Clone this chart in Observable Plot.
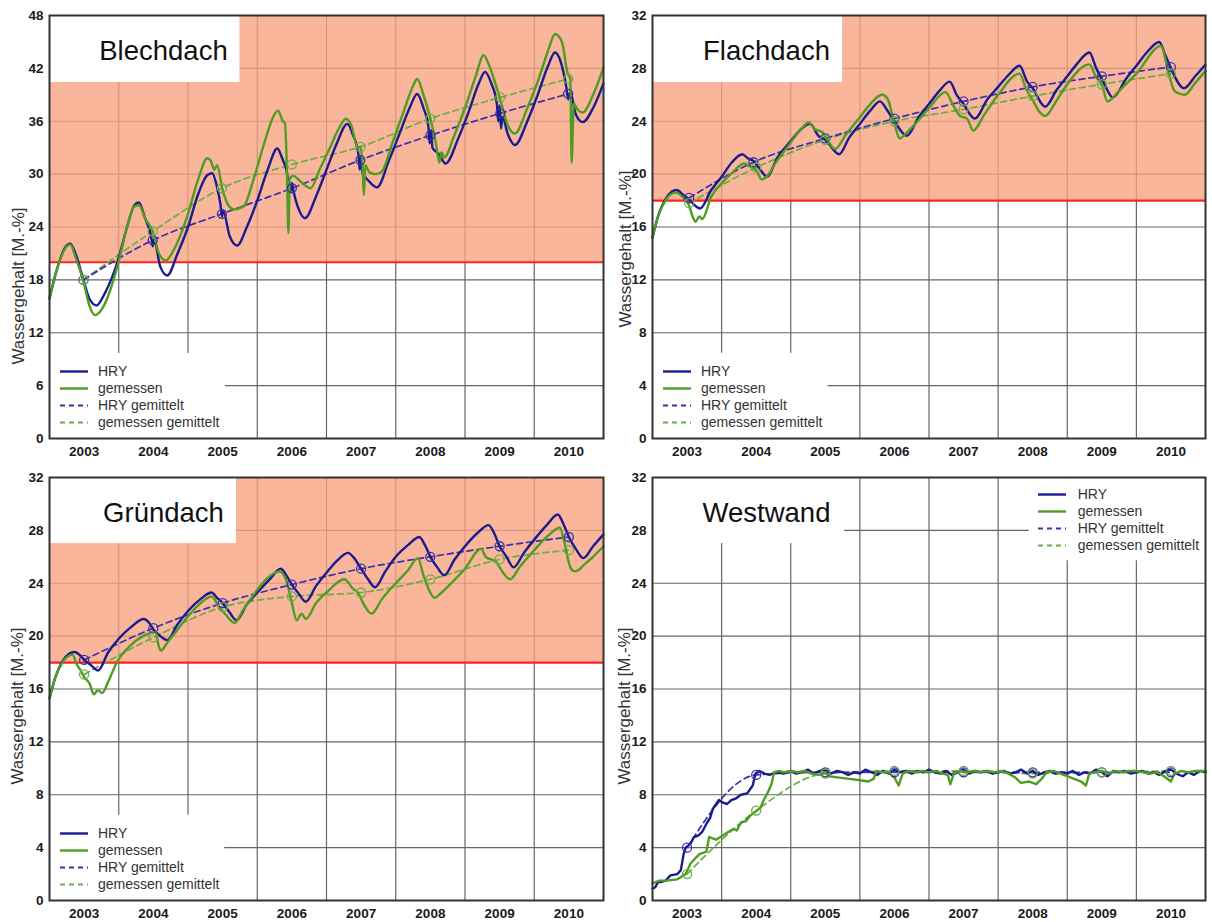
<!DOCTYPE html>
<html><head><meta charset="utf-8">
<script src="https://cdn.jsdelivr.net/npm/d3@7"></script>
<script src="https://cdn.jsdelivr.net/npm/@observablehq/plot@0.6"></script>
<style>
html,body{margin:0;padding:0;background:#fff;}
#root{position:relative;width:1212px;height:922px;overflow:hidden;font-family:"Liberation Sans",Arial,sans-serif;}
.panel{position:absolute;width:606px;height:461px;}
.legend{position:absolute;font-size:14px;color:#333;font-family:"Liberation Sans",Arial,sans-serif;}
.legend .row{position:absolute;left:0;height:17px;line-height:17px;white-space:nowrap;}
.legend svg{position:absolute;left:0;top:0;}
.legend span{position:absolute;left:49px;top:0;}
</style></head><body><div id="root"></div>
<script>
// ---------- axis ticks ----------
const yearBounds = [2004, 2005, 2006, 2007, 2008, 2009, 2010];
const yearTicks = [2003.5, 2004.5, 2005.5, 2006.5, 2007.5, 2008.5, 2009.5, 2010.5];
const yearLabels = ["2003", "2004", "2005", "2006", "2007", "2008", "2009", "2010"];
const ticks48 = [0, 6, 12, 18, 24, 30, 36, 42, 48];
const ticks32 = [0, 4, 8, 12, 16, 20, 24, 28, 32];
const legendLabels = ["HRY", "gemessen", "HRY gemittelt", "gemessen gemittelt"];
const yLabel = "Wassergehalt [M.-%]";

// ---------- Blechdach ----------
const blechdachHRY = [[2003.00,15.9],[2003.10,19.0],[2003.22,21.6],[2003.30,22.1],[2003.38,20.9],[2003.49,18.0],[2003.58,15.8],[2003.68,15.1],[2003.80,16.5],[2003.98,20.0],[2004.12,24.0],[2004.22,26.4],[2004.29,26.8],[2004.38,25.0],[2004.47,22.8],[2004.49,21.8],[2004.51,22.5],[2004.60,19.5],[2004.70,18.5],[2004.85,21.0],[2005.00,24.0],[2005.15,27.8],[2005.28,29.9],[2005.35,30.1],[2005.42,28.5],[2005.47,26.5],[2005.49,25.2],[2005.51,25.8],[2005.60,23.0],[2005.71,21.9],[2005.85,24.0],[2006.00,27.0],[2006.15,30.5],[2006.29,32.9],[2006.36,31.8],[2006.42,30.5],[2006.48,28.0],[2006.50,29.0],[2006.52,28.2],[2006.60,26.0],[2006.69,25.0],[2006.85,27.5],[2007.00,30.5],[2007.15,33.5],[2007.30,35.7],[2007.38,34.5],[2007.46,32.3],[2007.48,30.5],[2007.50,32.0],[2007.52,30.2],[2007.60,29.3],[2007.73,28.5],[2007.90,31.5],[2008.05,34.5],[2008.20,37.5],[2008.31,39.1],[2008.40,37.5],[2008.47,35.5],[2008.49,33.5],[2008.51,35.0],[2008.53,33.0],[2008.62,32.3],[2008.72,31.2],[2008.90,34.0],[2009.05,37.0],[2009.20,40.3],[2009.29,41.6],[2009.38,40.3],[2009.46,38.0],[2009.48,36.0],[2009.50,37.8],[2009.52,35.2],[2009.54,36.5],[2009.62,34.5],[2009.72,33.3],[2009.90,36.0],[2010.05,39.0],[2010.20,42.3],[2010.30,43.8],[2010.38,42.8],[2010.46,40.0],[2010.49,38.5],[2010.52,39.3],[2010.60,36.8],[2010.70,35.9],[2010.85,37.5],[2011.00,40.3]];
const blechdachGem = [[2003.00,15.9],[2003.10,19.0],[2003.22,21.5],[2003.30,22.0],[2003.38,20.5],[2003.49,17.8],[2003.58,15.0],[2003.66,14.0],[2003.78,15.0],[2003.98,19.5],[2004.12,24.0],[2004.22,26.3],[2004.29,26.5],[2004.38,25.0],[2004.49,23.5],[2004.58,21.0],[2004.68,20.2],[2004.80,21.5],[2005.00,25.5],[2005.15,29.5],[2005.28,31.8],[2005.33,31.5],[2005.38,30.5],[2005.42,31.0],[2005.50,28.2],[2005.58,26.5],[2005.66,26.0],[2005.80,26.3],[2005.95,29.5],[2006.10,33.5],[2006.25,36.8],[2006.30,37.2],[2006.37,36.0],[2006.40,35.8],[2006.43,30.0],[2006.45,23.3],[2006.47,29.5],[2006.52,29.8],[2006.62,29.2],[2006.77,28.4],[2006.90,30.5],[2007.05,33.0],[2007.20,35.5],[2007.28,36.3],[2007.36,35.5],[2007.45,33.0],[2007.49,33.1],[2007.52,31.0],[2007.54,27.6],[2007.56,31.0],[2007.62,30.2],[2007.72,30.0],[2007.80,30.3],[2007.95,33.5],[2008.10,36.8],[2008.25,40.0],[2008.31,40.8],[2008.40,39.0],[2008.50,36.3],[2008.58,33.5],[2008.63,31.3],[2008.66,32.5],[2008.70,31.9],[2008.85,34.5],[2009.00,37.5],[2009.15,41.0],[2009.27,43.5],[2009.34,42.5],[2009.50,38.7],[2009.62,35.5],[2009.72,34.6],[2009.90,37.5],[2010.05,40.5],[2010.20,44.0],[2010.30,45.9],[2010.40,45.0],[2010.48,41.5],[2010.52,40.8],[2010.54,31.3],[2010.57,38.0],[2010.63,37.3],[2010.70,37.0],[2010.85,39.0],[2011.00,42.1]];
const blechdachHRYAvg = [[2003.49,18.0],[2004.49,22.5],[2005.49,25.5],[2006.50,28.4],[2007.49,31.6],[2008.50,34.4],[2009.51,36.9],[2010.49,39.1]];
const blechdachGemAvg = [[2003.49,18.0],[2004.49,23.5],[2005.49,28.4],[2006.50,31.1],[2007.49,33.1],[2008.50,36.3],[2009.51,38.7],[2010.49,40.8]];

// ---------- Flachdach ----------
const flachdachHRY = [[2003.00,15.2],[2003.08,16.8],[2003.20,18.2],[2003.35,18.8],[2003.45,18.4],[2003.53,18.1],[2003.62,17.6],[2003.69,17.4],[2003.85,18.8],[2004.00,19.8],[2004.15,20.9],[2004.30,21.5],[2004.38,21.2],[2004.46,21.0],[2004.55,20.4],[2004.66,19.8],[2004.80,21.2],[2005.00,22.5],[2005.15,23.4],[2005.28,23.8],[2005.40,22.9],[2005.50,22.6],[2005.70,21.5],[2005.85,22.8],[2006.00,23.8],[2006.15,24.8],[2006.29,25.5],[2006.40,24.8],[2006.50,24.0],[2006.68,22.9],[2006.85,24.3],[2007.00,25.3],[2007.15,26.3],[2007.30,27.0],[2007.40,26.0],[2007.50,25.3],[2007.66,24.2],[2007.85,25.7],[2008.00,26.6],[2008.15,27.5],[2008.31,28.2],[2008.42,27.0],[2008.50,26.5],[2008.68,25.1],[2008.85,26.4],[2009.00,27.4],[2009.15,28.4],[2009.32,29.2],[2009.42,28.0],[2009.52,27.0],[2009.66,25.8],[2009.85,27.2],[2010.00,28.2],[2010.15,29.2],[2010.33,30.0],[2010.42,29.0],[2010.50,28.0],[2010.69,26.5],[2010.85,27.4],[2011.00,28.3]];
const flachdachGem = [[2003.00,15.2],[2003.08,16.8],[2003.20,18.1],[2003.33,18.6],[2003.45,18.2],[2003.53,17.6],[2003.58,16.8],[2003.62,16.4],[2003.68,16.8],[2003.72,16.6],[2003.85,18.3],[2004.00,19.3],[2004.15,20.1],[2004.33,20.8],[2004.40,20.6],[2004.50,20.3],[2004.58,19.6],[2004.63,19.7],[2004.80,21.0],[2005.00,22.4],[2005.15,23.4],[2005.26,23.9],[2005.35,23.4],[2005.45,23.2],[2005.53,22.6],[2005.64,21.9],[2005.80,23.0],[2006.00,24.3],[2006.15,25.3],[2006.32,26.0],[2006.40,25.7],[2006.47,24.5],[2006.58,22.7],[2006.65,23.0],[2006.80,23.8],[2007.00,25.0],[2007.24,26.2],[2007.35,25.2],[2007.45,24.4],[2007.55,24.2],[2007.64,23.3],[2007.80,24.5],[2008.00,26.0],[2008.31,27.6],[2008.40,26.5],[2008.50,25.6],[2008.60,24.7],[2008.68,24.4],[2008.85,25.6],[2009.00,26.8],[2009.32,28.3],[2009.42,27.3],[2009.50,26.8],[2009.58,25.5],[2009.75,26.3],[2010.00,27.6],[2010.36,29.7],[2010.45,28.0],[2010.55,26.3],[2010.62,26.1],[2010.70,26.0],[2010.85,26.9],[2011.00,27.8]];
const flachdachHRYAvg = [[2003.53,18.2],[2004.46,20.9],[2005.50,22.7],[2006.50,24.2],[2007.50,25.5],[2008.50,26.6],[2009.50,27.4],[2010.50,28.1]];
const flachdachGemAvg = [[2003.53,17.8],[2004.50,20.5],[2005.50,22.6],[2006.50,24.0],[2007.50,24.9],[2008.50,25.9],[2009.50,26.8],[2010.50,27.6]];

// ---------- Gründach ----------
const gruendachHRY = [[2003.00,15.3],[2003.08,16.8],[2003.20,18.2],[2003.36,18.8],[2003.45,18.5],[2003.50,18.2],[2003.60,17.8],[2003.70,17.4],[2003.85,18.8],[2004.00,19.8],[2004.18,20.7],[2004.36,21.3],[2004.44,21.0],[2004.50,20.5],[2004.60,20.0],[2004.70,19.7],[2004.85,20.9],[2005.00,21.9],[2005.18,22.8],[2005.34,23.3],[2005.42,22.9],[2005.50,22.5],[2005.60,21.8],[2005.70,21.2],[2005.85,22.4],[2006.00,23.3],[2006.18,24.3],[2006.34,25.1],[2006.42,24.6],[2006.50,23.9],[2006.60,23.2],[2006.70,22.6],[2006.85,23.8],[2007.00,24.8],[2007.15,25.7],[2007.31,26.3],[2007.40,25.9],[2007.50,25.1],[2007.60,24.3],[2007.70,23.7],[2007.85,24.9],[2008.00,26.0],[2008.18,26.9],[2008.34,27.5],[2008.42,26.9],[2008.50,26.0],[2008.60,25.2],[2008.70,24.6],[2008.85,25.8],[2009.00,26.8],[2009.18,27.8],[2009.34,28.4],[2009.42,27.8],[2009.50,26.8],[2009.60,26.0],[2009.70,25.2],[2009.85,26.3],[2010.00,27.3],[2010.18,28.4],[2010.34,29.2],[2010.42,28.5],[2010.50,27.5],[2010.60,26.6],[2010.71,25.9],[2010.85,26.8],[2011.00,27.7]];
const gruendachGem = [[2003.00,15.3],[2003.08,16.8],[2003.20,18.1],[2003.33,18.6],[2003.40,17.8],[2003.45,17.4],[2003.50,16.9],[2003.58,16.4],[2003.64,15.6],[2003.70,15.9],[2003.76,15.7],[2003.86,16.7],[2003.98,18.1],[2004.15,19.2],[2004.35,20.0],[2004.53,20.3],[2004.58,19.2],[2004.61,18.9],[2004.70,19.5],[2004.85,20.5],[2005.00,21.5],[2005.18,22.5],[2005.34,23.0],[2005.45,22.2],[2005.55,21.6],[2005.67,21.0],[2005.80,22.0],[2006.00,23.5],[2006.15,24.4],[2006.32,24.9],[2006.42,24.2],[2006.50,22.5],[2006.57,21.2],[2006.64,21.7],[2006.70,21.3],[2006.85,22.5],[2007.00,23.3],[2007.26,24.3],[2007.38,23.6],[2007.45,23.3],[2007.55,22.3],[2007.65,21.7],[2007.80,22.8],[2008.00,24.0],[2008.18,25.0],[2008.32,25.9],[2008.40,24.6],[2008.48,23.5],[2008.56,22.9],[2008.64,23.2],[2008.80,24.0],[2009.00,25.1],[2009.23,26.6],[2009.30,26.0],[2009.45,25.6],[2009.55,24.8],[2009.65,24.3],[2009.80,25.3],[2010.00,26.5],[2010.20,27.6],[2010.37,28.2],[2010.44,27.0],[2010.52,25.2],[2010.58,24.9],[2010.64,25.0],[2010.70,25.3],[2010.85,26.0],[2011.00,26.8]];
const gruendachHRYAvg = [[2003.50,18.2],[2004.50,20.6],[2005.50,22.5],[2006.50,23.9],[2007.50,25.1],[2008.50,26.0],[2009.50,26.8],[2010.50,27.5]];
const gruendachGemAvg = [[2003.50,17.1],[2004.50,19.9],[2005.50,22.2],[2006.50,23.0],[2007.50,23.3],[2008.50,24.3],[2009.50,25.8],[2010.50,26.5]];

// ---------- Westwand ----------
const westwandHRY = [[2003.00,0.9],[2003.04,1.0],[2003.08,1.4],[2003.12,1.4],[2003.19,1.5],[2003.26,1.9],[2003.36,2.0],[2003.41,2.3],[2003.45,3.5],[2003.48,4.0],[2003.55,4.3],[2003.60,4.8],[2003.66,4.9],[2003.72,5.2],[2003.79,5.9],[2003.83,6.2],[2003.87,6.9],[2003.96,7.6],[2004.02,7.4],[2004.08,7.3],[2004.14,7.6],[2004.20,7.7],[2004.28,8.0],[2004.37,8.1],[2004.45,8.7],[2004.49,9.6],[2004.55,9.8],[2004.62,9.6],[2004.69,9.5],[2004.79,9.7],[2004.90,9.6],[2005.00,9.8],[2005.08,9.6],[2005.16,9.7],[2005.25,9.9],[2005.33,9.6],[2005.42,9.8],[2005.50,9.9],[2005.58,9.6],[2005.67,9.8],[2005.75,9.7],[2005.83,9.5],[2005.92,9.7],[2006.00,9.6],[2006.08,9.9],[2006.17,9.7],[2006.25,9.5],[2006.33,9.8],[2006.42,9.6],[2006.50,9.9],[2006.58,9.7],[2006.67,9.8],[2006.75,9.6],[2006.83,9.8],[2006.92,9.7],[2007.00,9.9],[2007.08,9.7],[2007.17,9.6],[2007.25,9.8],[2007.33,9.5],[2007.42,9.7],[2007.50,9.9],[2007.58,9.6],[2007.67,9.8],[2007.75,9.7],[2007.83,9.8],[2007.92,9.6],[2008.00,9.7],[2008.08,9.8],[2008.17,9.6],[2008.25,9.7],[2008.33,9.9],[2008.42,9.6],[2008.50,9.8],[2008.58,9.5],[2008.67,9.7],[2008.75,9.8],[2008.83,9.6],[2008.92,9.7],[2009.00,9.6],[2009.08,9.8],[2009.17,9.5],[2009.25,9.7],[2009.33,9.6],[2009.42,9.9],[2009.50,9.7],[2009.58,9.4],[2009.67,9.8],[2009.75,9.7],[2009.83,9.8],[2009.92,9.6],[2010.00,9.7],[2010.08,9.8],[2010.17,9.6],[2010.25,9.7],[2010.33,9.5],[2010.42,9.8],[2010.50,9.9],[2010.58,9.6],[2010.67,9.4],[2010.75,9.7],[2010.83,9.5],[2010.92,9.8],[2011.00,9.7]];
const westwandGem = [[2003.00,1.3],[2003.10,1.5],[2003.20,1.5],[2003.36,1.6],[2003.48,2.0],[2003.55,2.8],[2003.62,3.2],[2003.68,3.5],[2003.78,3.7],[2003.82,4.8],[2003.92,4.6],[2004.04,5.0],[2004.10,5.2],[2004.17,5.4],[2004.22,5.3],[2004.28,5.9],[2004.35,6.0],[2004.41,6.4],[2004.51,6.8],[2004.56,7.0],[2004.61,7.6],[2004.68,8.3],[2004.72,8.8],[2004.76,9.7],[2004.83,9.8],[2004.90,9.7],[2005.00,9.8],[2005.10,9.7],[2005.20,9.8],[2005.30,9.6],[2005.42,9.5],[2005.50,9.7],[2005.55,9.4],[2005.70,9.3],[2005.85,9.2],[2006.00,9.1],[2006.12,9.0],[2006.20,9.2],[2006.24,9.8],[2006.32,9.7],[2006.42,9.7],[2006.50,9.3],[2006.56,8.7],[2006.62,9.6],[2006.70,9.8],[2006.80,9.7],[2006.90,9.8],[2007.00,9.7],[2007.10,9.8],[2007.20,9.6],[2007.27,9.5],[2007.31,8.8],[2007.36,9.6],[2007.45,9.8],[2007.55,9.7],[2007.65,9.8],[2007.75,9.7],[2007.85,9.8],[2007.95,9.7],[2008.05,9.8],[2008.15,9.6],[2008.25,9.3],[2008.33,8.9],[2008.45,9.0],[2008.55,8.8],[2008.63,9.2],[2008.70,9.7],[2008.80,9.8],[2008.90,9.6],[2009.00,9.4],[2009.10,9.2],[2009.20,9.0],[2009.27,8.7],[2009.32,9.6],[2009.40,9.7],[2009.50,9.8],[2009.60,9.6],[2009.70,9.8],[2009.80,9.7],[2009.90,9.8],[2010.00,9.8],[2010.10,9.7],[2010.20,9.6],[2010.30,9.7],[2010.40,9.4],[2010.50,9.0],[2010.55,9.6],[2010.65,9.8],[2010.75,9.7],[2010.85,9.8],[2011.00,9.8]];
const westwandHRYAvg = [[2003.50,4.0],[2004.50,9.5],[2005.50,9.7],[2006.50,9.7],[2007.50,9.7],[2008.50,9.7],[2009.50,9.7],[2010.50,9.7]];
const westwandGemAvg = [[2003.50,2.0],[2004.50,6.8],[2005.50,9.6],[2006.50,9.8],[2007.50,9.8],[2008.50,9.6],[2009.50,9.7],[2010.50,9.8]];

// ---------- styles ----------
const C = {
  blue: "#1b1b90", green: "#4f9c22", blueDash: "#3e30a8", greenDash: "#69ad45",
  red: "#ff2222", fill: "#f7a27f", grid: "#666666", frame: "#333333", text: "#1a1a1a"
};
const FONT = '"Liberation Sans", Arial, sans-serif';

const panels = [
  {title: "Blechdach", left: 0, top: 0, mL: 49, mR: 3, mT: 15, mB: 23, yMax: 48, yTicks: ticks48, threshold: 20,
   hry: blechdachHRY, gem: blechdachGem, hryAvg: blechdachHRYAvg, gemAvg: blechdachGemAvg,
   titleBox: {x1: 2003, x2: 2005.75, y1: 40.4, y2: 48}, legendBox: {x1: 2003, x2: 2005.54, y1: 0, y2: 9.65},
   labelDx: -31, labelDy: 59, curve: "monotone-x"},
  {title: "Flachdach", left: 606, top: 0, mL: 46, mR: 7, mT: 15, mB: 23, yMax: 32, yTicks: ticks32, threshold: 18,
   hry: flachdachHRY, gem: flachdachGem, hryAvg: flachdachHRYAvg, gemAvg: flachdachGemAvg,
   titleBox: {x1: 2003, x2: 2005.75, y1: 26.93, y2: 32}, legendBox: {x1: 2003, x2: 2005.54, y1: 0, y2: 6.45},
   labelDx: -27, labelDy: 22, curve: "monotone-x"},
  {title: "Gründach", left: 0, top: 461, mL: 49, mR: 3, mT: 16, mB: 22, yMax: 32, yTicks: ticks32, threshold: 18,
   hry: gruendachHRY, gem: gruendachGem, hryAvg: gruendachHRYAvg, gemAvg: gruendachGemAvg,
   titleBox: {x1: 2003, x2: 2005.70, y1: 27.0, y2: 32}, legendBox: {x1: 2003, x2: 2005.53, y1: 0, y2: 6.45},
   labelDx: -32, labelDy: 17, curve: "monotone-x"},
  {title: "Westwand", left: 606, top: 461, mL: 46, mR: 7, mT: 16, mB: 22, yMax: 32, yTicks: ticks32, threshold: null,
   hry: westwandHRY, gem: westwandGem, hryAvg: westwandHRYAvg, gemAvg: westwandGemAvg,
   titleBox: {x1: 2003, x2: 2005.78, y1: 27.0, y2: 32}, legendBox: {x1: 2008.45, x2: 2011, y1: 25.7, y2: 32},
   labelDx: -28, labelDy: 17, curve: "linear"}
];

const root = document.getElementById("root");
const X = d => d[0], Y = d => d[1];

for (const p of panels) {
  const marks = [
    Plot.ruleY(p.yTicks, {stroke: C.grid, strokeWidth: 1.2}),
    Plot.ruleX(yearBounds, {stroke: C.grid, strokeWidth: 1.2}),
  ];
  if (p.threshold != null) {
    marks.push(Plot.rect([p], {x1: 2003, x2: 2011, y1: d => d.threshold, y2: d => d.yMax, fill: C.fill, fillOpacity: 0.78}));
  }
  marks.push(
    Plot.rect([p.titleBox], {x1: "x1", x2: "x2", y1: "y1", y2: "y2", fill: "white"}),
    Plot.rect([p.legendBox], {x1: "x1", x2: "x2", y1: "y1", y2: "y2", fill: "white"})
  );
  if (p.threshold != null) {
    marks.push(Plot.ruleY([p.threshold], {stroke: C.red, strokeWidth: 2.2}));
  }
  marks.push(
    Plot.line(p.gemAvg, {x: X, y: Y, stroke: C.greenDash, strokeWidth: 1.7, strokeDasharray: "6,4", curve: "monotone-x"}),
    Plot.line(p.hryAvg, {x: X, y: Y, stroke: C.blueDash, strokeWidth: 1.7, strokeDasharray: "6,4", curve: "monotone-x"}),
    Plot.line(p.hry, {x: X, y: Y, stroke: C.blue, strokeWidth: 2.4, curve: p.curve}),
    Plot.line(p.gem, {x: X, y: Y, stroke: C.green, strokeWidth: 2.4, curve: p.curve}),
    Plot.dot(p.hryAvg, {x: X, y: Y, r: 4.5, stroke: C.blueDash, fill: "none", strokeWidth: 1.3}),
    Plot.dot(p.gemAvg, {x: X, y: Y, r: 4.5, stroke: C.greenDash, fill: "none", strokeWidth: 1.3}),
    Plot.frame({stroke: C.frame, strokeWidth: 2}),
    Plot.axisY(p.yTicks, {tickSize: 0, tickPadding: 6, fontWeight: "bold", fontSize: 13.5, fill: C.text, label: null}),
    Plot.axisX(yearTicks, {tickSize: 0, tickPadding: 8, fontWeight: "bold", fontSize: 13.5, fill: C.text, label: null,
      tickFormat: d => yearLabels[yearTicks.indexOf(d)]}),
    Plot.text([p.title], {text: d => d, frameAnchor: "top-left", dx: 114, dy: 36, fontSize: 27.5, textAnchor: "middle", lineAnchor: "middle", fill: "#111"}),
    Plot.text([yLabel], {text: d => d, frameAnchor: "left", dx: p.labelDx, dy: p.labelDy, rotate: -90, fontSize: 17, textAnchor: "middle", lineAnchor: "middle", fill: "#333"})
  );

  const chart = Plot.plot({
    width: 606, height: 461,
    marginLeft: p.mL, marginRight: p.mR, marginTop: p.mT, marginBottom: p.mB,
    x: {domain: [2003, 2011]},
    y: {domain: [0, p.yMax]},
    style: {fontFamily: FONT, background: "transparent", overflow: "visible"},
    marks
  });

  const div = document.createElement("div");
  div.className = "panel";
  div.style.left = p.left + "px";
  div.style.top = p.top + "px";
  div.appendChild(chart);

  // legend (positioned from the plot's own scales)
  const sx = chart.scale("x"), sy = chart.scale("y");
  const lx = sx.apply(p.legendBox.x1), ly = sy.apply(p.legendBox.y2);
  const leftLegend = p.legendBox.x1 === 2003;
  const leg = document.createElement("div");
  leg.className = "legend";
  leg.style.left = lx + "px";
  leg.style.top = ly + "px";
  const entries = [
    {color: C.blue, dash: null, w: 2.4},
    {color: C.green, dash: null, w: 2.4},
    {color: C.blueDash, dash: "5,4", w: 1.8},
    {color: C.greenDash, dash: "5,4", w: 1.8}
  ];
  entries.forEach((e, i) => {
    const row = document.createElement("div");
    row.className = "row";
    row.style.top = (leftLegend ? 10 : 9) + i * 17 + "px";
    row.innerHTML = `<svg width="44" height="17"><line x1="${leftLegend ? 11 : 9}" x2="${leftLegend ? 39 : 37}" y1="8.5" y2="8.5" stroke="${e.color}" stroke-width="${e.w}" ${e.dash ? `stroke-dasharray="${e.dash}"` : ""}/></svg><span>${legendLabels[i]}</span>`;
    leg.appendChild(row);
  });
  div.appendChild(leg);
  root.appendChild(div);
}
</script></body></html>
